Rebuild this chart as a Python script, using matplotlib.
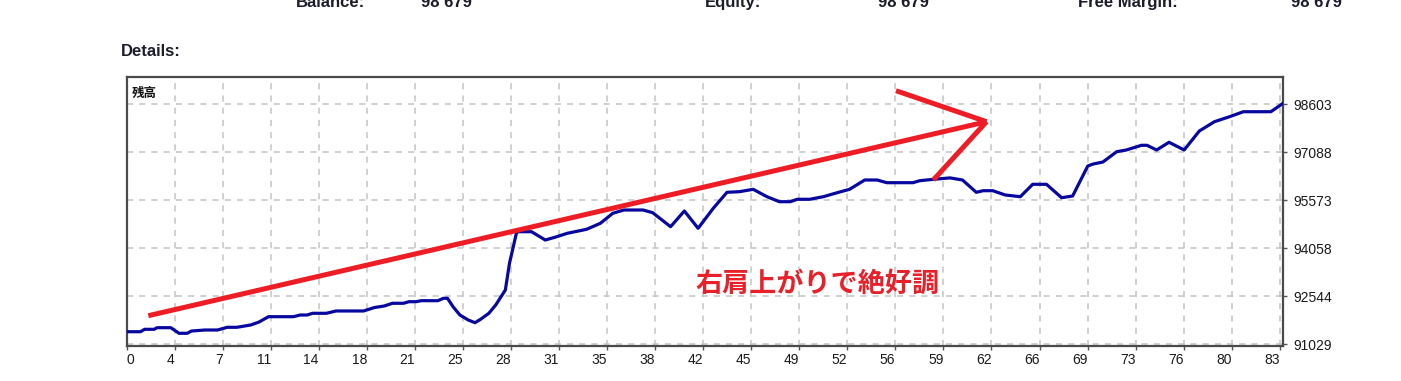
import numpy as np
import matplotlib
matplotlib.use("Agg")
import matplotlib.pyplot as plt

# ---------------- data ----------------
trade_x = [0, 1.0, 1.3, 2.0, 2.2, 3.2, 3.8, 4.4, 4.7, 5.7, 6.6, 7.3, 8.0, 9.0, 9.6, 10.3,
           12.1, 12.6, 13.1, 13.5, 14.5, 15.2, 17.2, 18.0, 18.7, 19.3, 20.1, 20.5, 21.0,
           21.4, 22.6, 23.0, 23.3, 23.7, 24.2, 24.8, 25.3, 25.7, 26.3, 26.8, 27.5, 27.8,
           28.3, 28.4, 29.4, 30.4, 31.1, 32.0, 33.4, 34.4, 35.3, 36.1, 37.5, 38.2, 39.5,
           40.5, 41.5, 42.6, 43.6, 44.5, 45.5, 46.5, 47.4, 48.2, 48.7, 49.6, 50.6, 51.6,
           52.5, 53.6, 54.5, 55.2, 57.1, 57.6, 58.6, 59.8, 60.7, 61.7, 62.2, 62.9, 63.8,
           64.9, 65.8, 66.8, 67.9, 68.7, 69.8, 70.2, 70.9, 71.9, 72.6, 73.7, 74.1, 74.8,
           75.7, 76.8, 77.9, 79.0, 80.1, 81.1, 83.1, 84.0]
balance = [91426, 91426, 91502, 91502, 91553, 91553, 91376, 91376, 91448, 91480, 91480,
           91565, 91565, 91638, 91730, 91900, 91900, 91953, 91953, 92007, 92007, 92080,
           92080, 92190, 92237, 92323, 92323, 92373, 92373, 92405, 92405, 92480, 92480,
           92215, 91953, 91796, 91710, 91818, 92007, 92269, 92742, 93585, 94532, 94582,
           94582, 94320, 94406, 94532, 94658, 94847, 95163, 95267, 95267, 95182, 94740,
           95236, 94690, 95321, 95826, 95845, 95920, 95687, 95529, 95529, 95605, 95605,
           95687, 95813, 95920, 96214, 96214, 96129, 96129, 96192, 96236, 96280, 96214,
           95826, 95876, 95876, 95741, 95687, 96078, 96078, 95655, 95709, 96656, 96719,
           96782, 97107, 97161, 97309, 97309, 97161, 97404, 97161, 97760, 98054, 98212,
           98369, 98369, 98640]

x_tick_labels = ["0", "4", "7", "11", "14", "18", "21", "25", "28", "31", "35", "38", "42",
                 "45", "49", "52", "56", "59", "62", "66", "69", "73", "76", "80", "83"]
y_ticks = [91029, 92544, 94058, 95573, 97088, 98603]

header_labels = ["Balance:", "Equity:", "Free Margin:"]
header_values = ["98 679", "98 679", "98 679"]

# red hand-drawn annotation (trade, balance)
arrow_shaft = [(1.57, 91931), (62.45, 98054)]
arrow_upper = [(55.87, 99032), (62.45, 98054)]
arrow_lower = [(58.58, 96214), (62.45, 98054)]
note_pos = (50.17, 92932)
note_text = "右肩上がりで絶好調"
series_label = "残高"

# ---------------- figure ----------------
W, H = 1401, 381
fig = plt.figure(figsize=(W / 100, H / 100), dpi=100)
fig.patch.set_facecolor("white")

ax = fig.add_axes([126.7 / W, 1 - 346 / H, (1283.3 - 126.7) / W, (346 - 77.3) / H])
ax.set_xlim(0, 84)
ax.set_ylim(90975, 99455)

xt = np.linspace(0, 83.74, len(x_tick_labels))
ax.set_xticks(xt)
ax.set_xticklabels(x_tick_labels, fontsize=10, family="Liberation Sans", color="#1a1a1a")
for i, lab in enumerate(ax.get_xticklabels()):
    lab.set_ha("left" if i == 0 else "right")
ax.set_yticks(y_ticks)
ax.set_yticklabels([str(v) for v in y_ticks], fontsize=10, family="Liberation Sans",
                   color="#1a1a1a")
ax.yaxis.tick_right()
ax.tick_params(axis="both", length=3, width=1, color="#555555", pad=2)
ax.tick_params(axis="y", pad=4)

ax.grid(True, color="#c4c4c4", linestyle=(0, (4, 4)), linewidth=1.1)
ax.set_axisbelow(True)
for s in ax.spines.values():
    s.set_color("#4a4a4a")
    s.set_linewidth(1.6)

ax.plot(trade_x, balance, color="#0808a0", linewidth=2.3, solid_joinstyle="round",
        zorder=3)

for seg in (arrow_shaft, arrow_upper, arrow_lower):
    xs, ys = zip(*seg)
    ax.plot(xs, ys, color="#ee1c25", linewidth=3.6, solid_capstyle="butt", zorder=4,
            clip_on=False)

ax.text(note_pos[0], note_pos[1], note_text, color="#e8202a", fontsize=19.5,
        fontweight="bold", family=["Noto Sans CJK JP", "DejaVu Sans"],
        ha="center", va="center", zorder=5)

ax.text(0.0045, 0.965, series_label, transform=ax.transAxes, fontsize=9,
        fontweight="bold", family=["Noto Sans CJK JP", "DejaVu Sans"],
        ha="left", va="top", color="#111111")

# ---------------- header texts ----------------
hdr_font = dict(fontsize=12, fontweight="bold", family="Liberation Sans", color="#1c1c2c")
label_x = [296, 705, 1078]
value_x = [421, 878, 1291]
for lx, vx, lab, val in zip(label_x, value_x, header_labels, header_values):
    fig.text(lx / W, 1 - 7 / H, lab, ha="left", va="baseline", **hdr_font)
    fig.text(vx / W, 1 - 7 / H, val, ha="left", va="baseline", **hdr_font)

fig.text(120.5 / W, 1 - 56 / H, "Details:", ha="left", va="baseline", **hdr_font)

fig.savefig("out.png", dpi=100, facecolor="white")
